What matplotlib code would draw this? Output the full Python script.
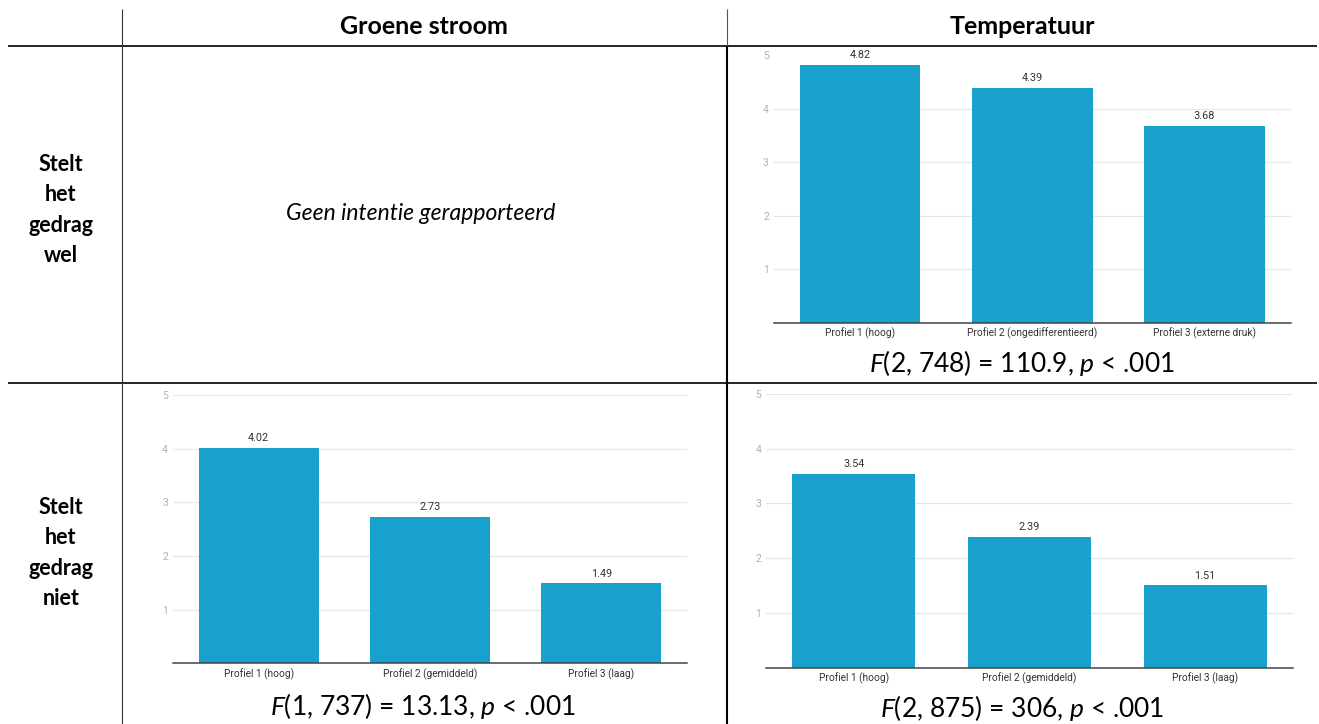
import matplotlib
matplotlib.use("Agg")
import matplotlib.pyplot as plt

# --- data -------------------------------------------------------------
column_titles = ["Groene stroom", "Temperatuur"]
row_titles = ["Stelt\nhet\ngedrag\nwel", "Stelt\nhet\ngedrag\nniet"]
no_intention_text = "Geen intentie gerapporteerd"

temp_wel_labels = ["Profiel 1 (hoog)", "Profiel 2 (ongedifferentieerd)", "Profiel 3 (externe druk)"]
temp_wel_values = [4.82, 4.39, 3.68]
temp_wel_stat = r"$\mathit{F}$(2, 748) = 110.9, $\mathit{p}$ < .001"

groen_niet_labels = ["Profiel 1 (hoog)", "Profiel 2 (gemiddeld)", "Profiel 3 (laag)"]
groen_niet_values = [4.02, 2.73, 1.49]
groen_niet_stat = r"$\mathit{F}$(1, 737) = 13.13, $\mathit{p}$ < .001"

temp_niet_labels = ["Profiel 1 (hoog)", "Profiel 2 (gemiddeld)", "Profiel 3 (laag)"]
temp_niet_values = [3.54, 2.39, 1.51]
temp_niet_stat = r"$\mathit{F}$(2, 875) = 306, $\mathit{p}$ < .001"

y_ticks = [1, 2, 3, 4, 5]

# --- style ------------------------------------------------------------
W, H = 1319, 724
BAR = "#19a1cd"
plt.rcParams["mathtext.fontset"] = "custom"
plt.rcParams["mathtext.rm"] = "Lato"
plt.rcParams["mathtext.it"] = "Lato:italic"

fig = plt.figure(figsize=(W / 100, H / 100), dpi=100)
fig.patch.set_facecolor("white")

# full-figure layer in pixel units for the table grid and texts
grid = fig.add_axes([0, 0, 1, 1])
grid.set_xlim(0, W)
grid.set_ylim(H, 0)
grid.axis("off")

grid.plot([8, 1317], [45.7, 45.7], color="black", lw=1.2, solid_capstyle="butt")
grid.plot([8, 1317], [382.7, 382.7], color="black", lw=1.2, solid_capstyle="butt")
grid.plot([121.7, 121.7], [9, H], color="#333333", lw=0.8, solid_capstyle="butt")
grid.plot([726.7, 726.7], [9, 45.7], color="#555555", lw=0.8, solid_capstyle="butt")
grid.plot([726.7, 726.7], [45.7, H], color="black", lw=1.5, solid_capstyle="butt")

base = dict(family="Lato", color="black", ha="center", va="center")
grid.text(424, 27, column_titles[0], fontweight="bold", fontsize=18, **base)
grid.text(1022, 27, column_titles[1], fontweight="bold", fontsize=18, **base)
grid.text(61, 210, row_titles[0], fontweight="bold", fontsize=15.5,
          linespacing=1.55, **base)
grid.text(61, 553, row_titles[1], fontweight="bold", fontsize=15.5,
          linespacing=1.55, **base)
grid.text(421, 214, no_intention_text, style="italic", fontsize=16.5, **base)


def px_axes(x0, y_top, x1, y_bottom):
    return fig.add_axes([x0 / W, 1 - y_bottom / H, (x1 - x0) / W, (y_bottom - y_top) / H])


def bar_panel(ax, labels, values, grid_ticks):
    pos = list(range(len(values)))
    for t in grid_ticks:
        ax.axhline(t, color="#e6e6e6", lw=0.9, zorder=0)
    ax.bar(pos, values, width=0.7, color=BAR, zorder=2)
    for p, v in zip(pos, values):
        ax.annotate(f"{v:.2f}", (p, v), xytext=(0, 3.2), textcoords="offset points",
                    ha="center", va="bottom", family="Roboto", fontsize=7.8,
                    color="#333333")
    ax.set_xlim(-0.5, len(values) - 0.5)
    ax.set_ylim(0, 5)
    ax.set_yticks(y_ticks)
    ax.set_yticklabels([str(t) for t in y_ticks], family="Roboto", fontsize=7.5,
                       color="#b0b0b0")
    ax.set_xticks(pos)
    ax.set_xticklabels(labels, family="Roboto", fontsize=7.3, color="#333333")
    ax.tick_params(length=0)
    ax.tick_params(axis="y", pad=3.5)
    ax.tick_params(axis="x", pad=3.5)
    for s in ["left", "right", "top"]:
        ax.spines[s].set_visible(False)
    ax.spines["bottom"].set_color("#444444")
    ax.spines["bottom"].set_linewidth(1.1)
    ax.spines["bottom"].set_zorder(3)
    ax.set_facecolor("none")


ax_tw = px_axes(773.7, 55, 1290.8, 322.7)
bar_panel(ax_tw, temp_wel_labels, temp_wel_values, [1, 2, 3, 4])

ax_gn = px_axes(172.9, 395, 687, 663.3)
bar_panel(ax_gn, groen_niet_labels, groen_niet_values, y_ticks)

ax_tn = px_axes(766, 394, 1293, 667.7)
bar_panel(ax_tn, temp_niet_labels, temp_niet_values, y_ticks)

stat = dict(family="Lato", fontsize=19, color="black", ha="center", va="center")
grid.text(1022, 363, temp_wel_stat, **stat)
grid.text(423, 706, groen_niet_stat, **stat)
grid.text(1022, 708, temp_niet_stat, **stat)

fig.savefig("out.png", dpi=100, facecolor="white")
